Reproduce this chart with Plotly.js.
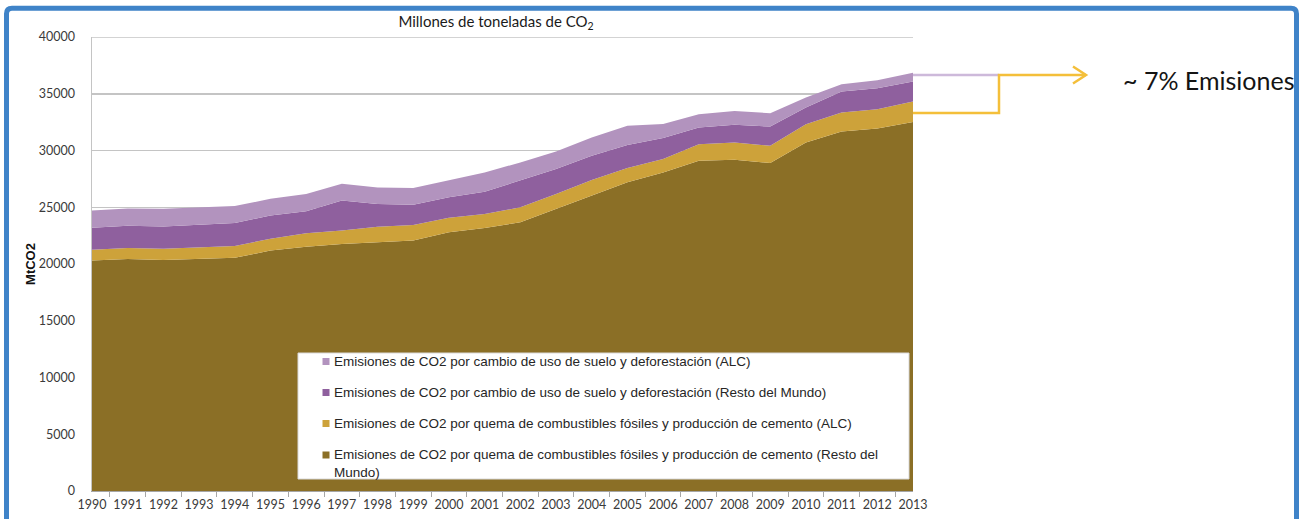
<!DOCTYPE html>
<html>
<head>
<meta charset="utf-8">
<script src="https://cdn.plot.ly/plotly-3.0.1.min.js"></script>
<style>
  html, body { margin: 0; padding: 0; background: #ffffff; }
  #chart { width: 1301px; height: 519px; }
</style>
</head>
<body>
<div id="chart"></div>
<script>
// ---- Data (MtCO2) ----
const years = ['1990','1991','1992','1993','1994','1995','1996','1997','1998','1999','2000','2001',
               '2002','2003','2004','2005','2006','2007','2008','2009','2010','2011','2012','2013'];

const fossilRestoMundo = [20300, 20450, 20360, 20450, 20540, 21180, 21530, 21770, 21910, 22060, 22790, 23180,
                          23670, 24850, 26020, 27200, 28070, 29100, 29180, 28890, 30700, 31670, 31930, 32520];
const fossilALC        = [950, 970, 980, 1020, 1050, 1040, 1170, 1180, 1380, 1380, 1280, 1230,
                          1320, 1320, 1380, 1260, 1190, 1460, 1520, 1520, 1620, 1670, 1710, 1790];
const landRestoMundo   = [1940, 1960, 1960, 1970, 2030, 2050, 1940, 2640, 2000, 1790, 1810, 1960,
                          2350, 2200, 2130, 2030, 1840, 1460, 1560, 1700, 1460, 1850, 1850, 1760];
const landALC          = [1520, 1520, 1560, 1550, 1490, 1470, 1530, 1470, 1460, 1460, 1530, 1700,
                          1610, 1540, 1610, 1690, 1230, 1180, 1230, 1180, 880, 650, 700, 790];

const seriesNames = [
  'Emisiones de CO2 por cambio de uso de suelo y deforestación (ALC)',
  'Emisiones de CO2 por cambio de uso de suelo y deforestación (Resto del Mundo)',
  'Emisiones de CO2 por quema de combustibles fósiles y producción de cemento (ALC)',
  'Emisiones de CO2 por quema de combustibles fósiles y producción de cemento (Resto del<br>Mundo)'
];
const yTicks = [0, 5000, 10000, 15000, 20000, 25000, 30000, 35000, 40000];
const titleText = 'Millones de toneladas de CO<sub>2</sub>';
const yTitleText = 'MtCO2';
const noteText = '~ 7% Emisiones';

// ---- Styling ----
const cBrown = '#8B6F26', cGold = '#CDA23A', cPurple = '#8F609E', cLilac = '#B293BE';
const cBlue = '#3F83C8', cYellow = '#F4BF3A', cLav = '#CDB9DA';
const cGrid = '#c4c4c4';

// Geometry helpers (pixel -> paper), plot area = x 92..913, y 37..491
const L = 92, R = 913, T = 37, B = 491;
const px = v => (v - L) / (R - L);
const py = v => (B - v) / (B - T);

function areaTrace(y, color, name) {
  return {
    type: 'scatter', x: years, y: y, name: name,
    stackgroup: 'one', mode: 'lines',
    line: { width: 0, color: color }, fillcolor: color,
    showlegend: false, hoverinfo: 'x+y+name'
  };
}

const traces = [
  areaTrace(fossilRestoMundo, cBrown, seriesNames[3]),
  areaTrace(fossilALC, cGold, seriesNames[2]),
  areaTrace(landRestoMundo, cPurple, seriesNames[1]),
  areaTrace(landALC, cLilac, seriesNames[0])
];

const shapes = [];
const annotations = [];

// top gridline (at the upper range edge)
shapes.push({ type: 'line', xref: 'paper', yref: 'y', x0: 0, x1: 1, y0: yTicks[yTicks.length - 1], y1: yTicks[yTicks.length - 1],
              line: { color: cGrid, width: 1.5 }, layer: 'below' });

// Legend built from shapes + annotations
const legendRowsY = [361.5, 392.5, 423.5, 455];
const legendColors = [cLilac, cPurple, cGold, cBrown];
shapes.push({ type: 'rect', xref: 'paper', yref: 'paper', x0: px(298), x1: px(909), y0: py(479), y1: py(353),
              fillcolor: '#ffffff', line: { color: '#d9d9d9', width: 1 }, layer: 'above' });
legendColors.forEach((c, i) => {
  const cy = legendRowsY[i];
  shapes.push({ type: 'rect', xref: 'paper', yref: 'paper', x0: px(322.5), x1: px(329.5), y0: py(cy + 3.5), y1: py(cy - 3.5),
                fillcolor: c, line: { width: 0 }, layer: 'above' });
  annotations.push({
    xref: 'paper', yref: 'paper', x: px(332), y: py(i === 3 ? cy + 8.5 : cy),
    xanchor: 'left', yanchor: 'middle', align: 'left', showarrow: false,
    text: seriesNames[i], font: { family: 'Liberation Sans, Arial, sans-serif', size: 13.5, color: '#262626' }
  });
});

// right-side bracket and arrow
shapes.push({ type: 'line', xref: 'paper', yref: 'paper', x0: px(913), x1: px(999), y0: py(75), y1: py(75),
              line: { color: cLav, width: 2.5 } });
shapes.push({ type: 'path', xref: 'paper', yref: 'paper',
              path: `M ${px(913)},${py(113)} L ${px(999)},${py(113)} L ${px(999)},${py(75)} L ${px(1086)},${py(75)}`,
              line: { color: cYellow, width: 2.5 } });
shapes.push({ type: 'path', xref: 'paper', yref: 'paper',
              path: `M ${px(1073)},${py(66.5)} L ${px(1086)},${py(75)} L ${px(1073)},${py(83.5)}`,
              line: { color: cYellow, width: 2.5 } });
annotations.push({
  xref: 'paper', yref: 'paper', x: px(1121), y: py(80), xanchor: 'left', yanchor: 'middle', showarrow: false,
  text: noteText, font: { family: 'Lato, sans-serif', size: 25, color: '#141414' }
});

// outer blue border (rounded top corners)
const bx0 = px(6.5), bx1 = px(1296.5), by0 = py(8.2), by1 = py(540);
const rx = px(12) - px(6.5), ry = py(8.2) - py(13.7);
shapes.push({ type: 'path', xref: 'paper', yref: 'paper',
  path: `M ${bx0},${by1} L ${bx0},${by0 - ry} Q ${bx0},${by0} ${bx0 + rx},${by0} L ${bx1 - rx},${by0} Q ${bx1},${by0} ${bx1},${by0 - ry} L ${bx1},${by1}`,
  line: { color: cBlue, width: 5 } });

const layout = {
  width: 1301, height: 519,
  margin: { l: L, r: 1301 - R, t: T, b: 519 - B, pad: 0 },
  paper_bgcolor: '#ffffff', plot_bgcolor: '#ffffff',
  showlegend: false,
  title: { text: titleText, xref: 'container', yref: 'container', x: 496 / 1301, xanchor: 'center',
           y: 1 - 22 / 519, yanchor: 'middle',
           font: { family: 'Lato, sans-serif', size: 15, color: '#1a1a1a' } },
  xaxis: {
    type: 'category', range: [0, 23], tickson: 'boundaries', tickangle: 0,
    ticks: 'outside', ticklen: 5, tickcolor: '#a6a6a6', tickwidth: 1,
    showline: true, linecolor: '#a6a6a6', linewidth: 1, showgrid: false, zeroline: false,
    tickfont: { family: 'Lato, sans-serif', size: 12.5, color: '#3a3a3a' },
    ticklabelstandoff: 2, fixedrange: true
  },
  yaxis: {
    range: [0, 40000], tickmode: 'array', tickvals: yTicks, ticktext: yTicks.map(String),
    showgrid: true, gridcolor: cGrid, gridwidth: 1.5,
    showline: true, linecolor: cGrid, linewidth: 1.5, zeroline: false,
    ticks: '', ticklabelstandoff: 13,
    tickfont: { family: 'Lato, sans-serif', size: 12.5, color: '#3a3a3a' },
    title: { text: yTitleText, standoff: 0, font: { family: 'Liberation Sans, Arial, sans-serif', size: 13, color: '#111', weight: 'bold' } },
    fixedrange: true
  },
  shapes: shapes,
  annotations: annotations
};

Plotly.newPlot('chart', traces, layout, { displayModeBar: false, staticPlot: true });
</script>
</body>
</html>
